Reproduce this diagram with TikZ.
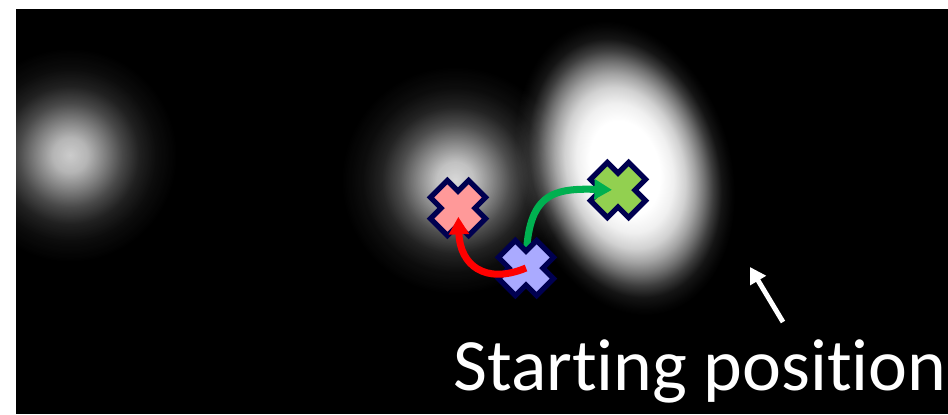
\documentclass[tikz,border=0pt]{standalone}
\usepackage{fontspec}
\setmainfont{Carlito}[Ligatures=NoCommon]
\usetikzlibrary{arrows.meta,positioning}
\definecolor{crossline}{HTML}{000050}
\definecolor{leftfill}{HTML}{FF9999}
\definecolor{startfill}{HTML}{AAAAFF}
\definecolor{rightfill}{HTML}{92D050}
\definecolor{moveleft}{HTML}{FF0000}
\definecolor{moveright}{HTML}{00B050}
\pgfdeclareradialshading{blob}{\pgfpointorigin}{color(0bp)=(white); color(4bp)=(white!89!black); color(8bp)=(white!63!black); color(12bp)=(white!36!black); color(16bp)=(white!16!black); color(20bp)=(white!6!black); color(25bp)=(black); color(50bp)=(black)}
\pgfdeclareradialshading{bigblob}{\pgfpointorigin}{color(0bp)=(white); color(8bp)=(white); color(11bp)=(white!94!black); color(13.7bp)=(white!82!black); color(16bp)=(white!64!black); color(18bp)=(white!45!black); color(20bp)=(white!24!black); color(22bp)=(white!8!black); color(24bp)=(white!2!black); color(25bp)=(black); color(50bp)=(black)}
\tikzset{
  blobshade/.style={shading=#1,blend mode=screen},
  crossmark/.pic={\draw[line width=3pt,crossline,fill=#1,line join=miter,rotate=45]
    (12,12)--(27,12)--(27,-12)--(12,-12)--(12,-27)--(-12,-27)--(-12,-12)
    --(-27,-12)--(-27,12)--(-12,12)--(-12,27)--(12,27)--cycle;},
  movearrow/.style={line width=4pt,-{Triangle[length=10pt,width=11pt]}}
}
\begin{document}
\begin{tikzpicture}[x=0.02cm,y=-0.02cm]
\useasboundingbox (0,0) rectangle (948,414);
\fill[black] (16,9) rectangle (948,414);
\begin{scope}
\clip (16,9) rectangle (948,414);
\shade[blobshade=blob,opacity=.8] (70,155) circle (108);
\shade[blobshade=blob,opacity=.85] (455,180) circle (115);
\begin{scope}[transform canvas={shift={(625,168)},rotate=16}]
\shade[blobshade=bigblob] (0,0) ellipse (106 and 150);
\end{scope}
\end{scope}
\coordinate (left) at (458,208);
\coordinate (start) at (526,268);
\coordinate (right) at (618,190);
\coordinate (pointtail) at (783,322);
\coordinate (pointtip) at (750,267);
\pic at (left) {crossmark=leftfill};
\pic at (right) {crossmark=rightfill};
\draw[movearrow,moveright,shorten >=3.4pt] (start) .. controls (526,195) and (550,188) .. (right);
\pic at (start) {crossmark=startfill};
\draw[movearrow,moveleft,shorten >=5pt] (start) .. controls (485,285) and (460,265) .. (left);
\draw[white,line width=2.8pt,-{Triangle[length=9pt,width=10pt]}] (pointtail) -- (pointtip);
\node[anchor=base west,inner sep=0pt,white,font=\fontsize{42}{42}\selectfont] (caption) at (453,390) {Starting position};
\end{tikzpicture}
\end{document}
